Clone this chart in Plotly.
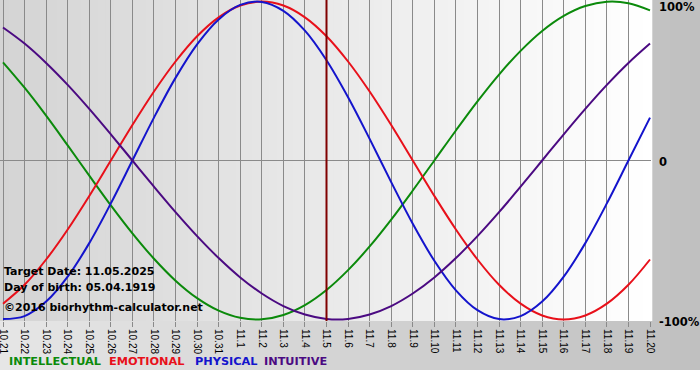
import plotly.graph_objects as go

# ---- data ----
dates = ["10.21", "10.22", "10.23", "10.24", "10.25", "10.26", "10.27", "10.28", "10.29", "10.30", "10.31",
         "11.1", "11.2", "11.3", "11.4", "11.5", "11.6", "11.7", "11.8", "11.9", "11.10",
         "11.11", "11.12", "11.13", "11.14", "11.15", "11.16", "11.17", "11.18", "11.19", "11.20"]

physical = [-0.998, -0.979, -0.888, -0.731, -0.520, -0.270, 0.000, 0.270, 0.520, 0.731, 0.888,
            0.979, 0.998, 0.942, 0.817, 0.631, 0.398, 0.136, -0.136, -0.398, -0.631,
            -0.817, -0.942, -0.998, -0.979, -0.888, -0.731, -0.520, -0.270, 0.000, 0.270]
emotional = [-0.901, -0.782, -0.623, -0.434, -0.223, 0.000, 0.223, 0.434, 0.623, 0.782, 0.901,
             0.975, 1.000, 0.975, 0.901, 0.782, 0.623, 0.434, 0.223, 0.000, -0.223,
             -0.434, -0.623, -0.782, -0.901, -0.975, -1.000, -0.975, -0.901, -0.782, -0.623]
intellectual = [0.618, 0.458, 0.282, 0.095, -0.095, -0.282, -0.458, -0.618, -0.756, -0.866, -0.945,
                -0.990, -0.999, -0.972, -0.910, -0.815, -0.690, -0.541, -0.372, -0.189, 0.000,
                0.189, 0.372, 0.541, 0.690, 0.815, 0.910, 0.972, 0.999, 0.990, 0.945]
intuitive = [0.837, 0.736, 0.614, 0.476, 0.325, 0.165, 0.000, -0.165, -0.325, -0.476, -0.614,
             -0.736, -0.837, -0.916, -0.969, -0.997, -0.997, -0.969, -0.916, -0.837, -0.736,
             -0.614, -0.476, -0.325, -0.165, 0.000, 0.165, 0.325, 0.476, 0.614, 0.736]

series_names = ["INTELLECTUAL", "EMOTIONAL", "PHYSICAL", "INTUITIVE"]
series_values = [intellectual, emotional, physical, intuitive]
series_colors = ["#0b8a0b", "#e8101a", "#1414cc", "#4b0a82"]

target_date = "11.5"
info_lines = ["Target Date: 11.05.2025", "Day of birth: 05.04.1919", "\u00a92016 biorhythm-calculator.net"]
y_labels = ["100%", "0", "-100%"]

# ---- layout geometry ----
W, H = 700, 380
ML, MR, MT, MB = 0, 49, 0, 59
PW, PH = W - ML - MR, H - MT - MB


def px_x(px):
    return (px - ML) / PW


def px_y(py):
    return (H - MB - py) / PH


fig = go.Figure()

shapes = []
# paper background gradient (grey band)
N = 70
for k in range(N):
    x0 = k * W / N
    x1 = (k + 1) * W / N
    c = round(230 - (230 - 192) * (k + 0.5) / N)
    shapes.append(dict(type="rect", xref="paper", yref="paper", x0=px_x(x0), x1=px_x(x1) + 0.002,
                       y0=px_y(370), y1=px_y(0), fillcolor=f"rgb({c},{c},{c})", line_width=0, layer="below"))
# plot area gradient
N2 = 80
for k in range(N2):
    c = round(212 + (255 - 212) * (k + 0.5) / N2)
    shapes.append(dict(type="rect", xref="paper", yref="paper", x0=k / N2, x1=(k + 1) / N2 + 0.002,
                       y0=0, y1=1, fillcolor=f"rgb({c},{c},{c})", line_width=0, layer="below"))
fig.update_layout(shapes=shapes)

for name, vals, col in zip(series_names, series_values, series_colors):
    fig.add_trace(go.Scatter(x=dates, y=vals, mode="lines", name=name,
                             line=dict(color=col, width=2, shape="spline", smoothing=1.0),
                             hoverinfo="skip", showlegend=False))

# target date line
fig.add_shape(type="line", xref="x", yref="paper", x0=dates.index(target_date), x1=dates.index(target_date),
              y0=0, y1=1, line=dict(color="#800000", width=2), layer="above")

annotations = []
# info text block
for txt, py in zip(info_lines, [271, 287, 307]):
    annotations.append(dict(text=f"<b>{txt}</b>", xref="paper", yref="paper", x=px_x(2), y=px_y(py),
                            xanchor="left", yanchor="middle", showarrow=False,
                            font=dict(family="DejaVu Sans", size=11, color="black")))
# right-side labels
for txt, py in zip(y_labels, [7, 162, 322]):
    annotations.append(dict(text=f"<b>{txt}</b>", xref="paper", yref="paper", x=px_x(657), y=px_y(py),
                            xanchor="left", yanchor="middle", showarrow=False,
                            font=dict(family="DejaVu Sans", size=11.5, color="black")))
# legend texts
for name, col, lx in zip(series_names, series_colors, [7, 107, 193, 262]):
    annotations.append(dict(text=f"<b>{name}</b>", xref="paper", yref="paper", x=px_x(lx), y=px_y(361),
                            xanchor="left", yanchor="middle", showarrow=False,
                            font=dict(family="DejaVu Sans", size=11.3, color=col)))
fig.update_layout(annotations=annotations)

fig.update_layout(
    width=W, height=H,
    margin=dict(l=ML, r=MR, t=MT, b=MB, pad=0, autoexpand=False),
    paper_bgcolor="white",
    plot_bgcolor="rgba(0,0,0,0)",
    showlegend=False,
    xaxis=dict(type="category", range=[-0.139, 30.046], showgrid=True, gridcolor="#8a8a8a", gridwidth=1,
               ticks="outside", ticklen=5, tickcolor="#8a8a8a", tickwidth=1, tickangle=90,
               tickfont=dict(family="Liberation Sans", size=10, color="black"), automargin=False,
               showline=False, zeroline=False, fixedrange=True),
    yaxis=dict(range=[-1.01, 1.01], showgrid=False, zeroline=True, zerolinecolor="#8a8a8a", zerolinewidth=1,
               showticklabels=False, ticks="", showline=False, fixedrange=True, automargin=False),
)

fig.write_html("out.html", config={"displayModeBar": False},
               post_script="document.body.style.margin='0';document.body.style.padding='0';")
